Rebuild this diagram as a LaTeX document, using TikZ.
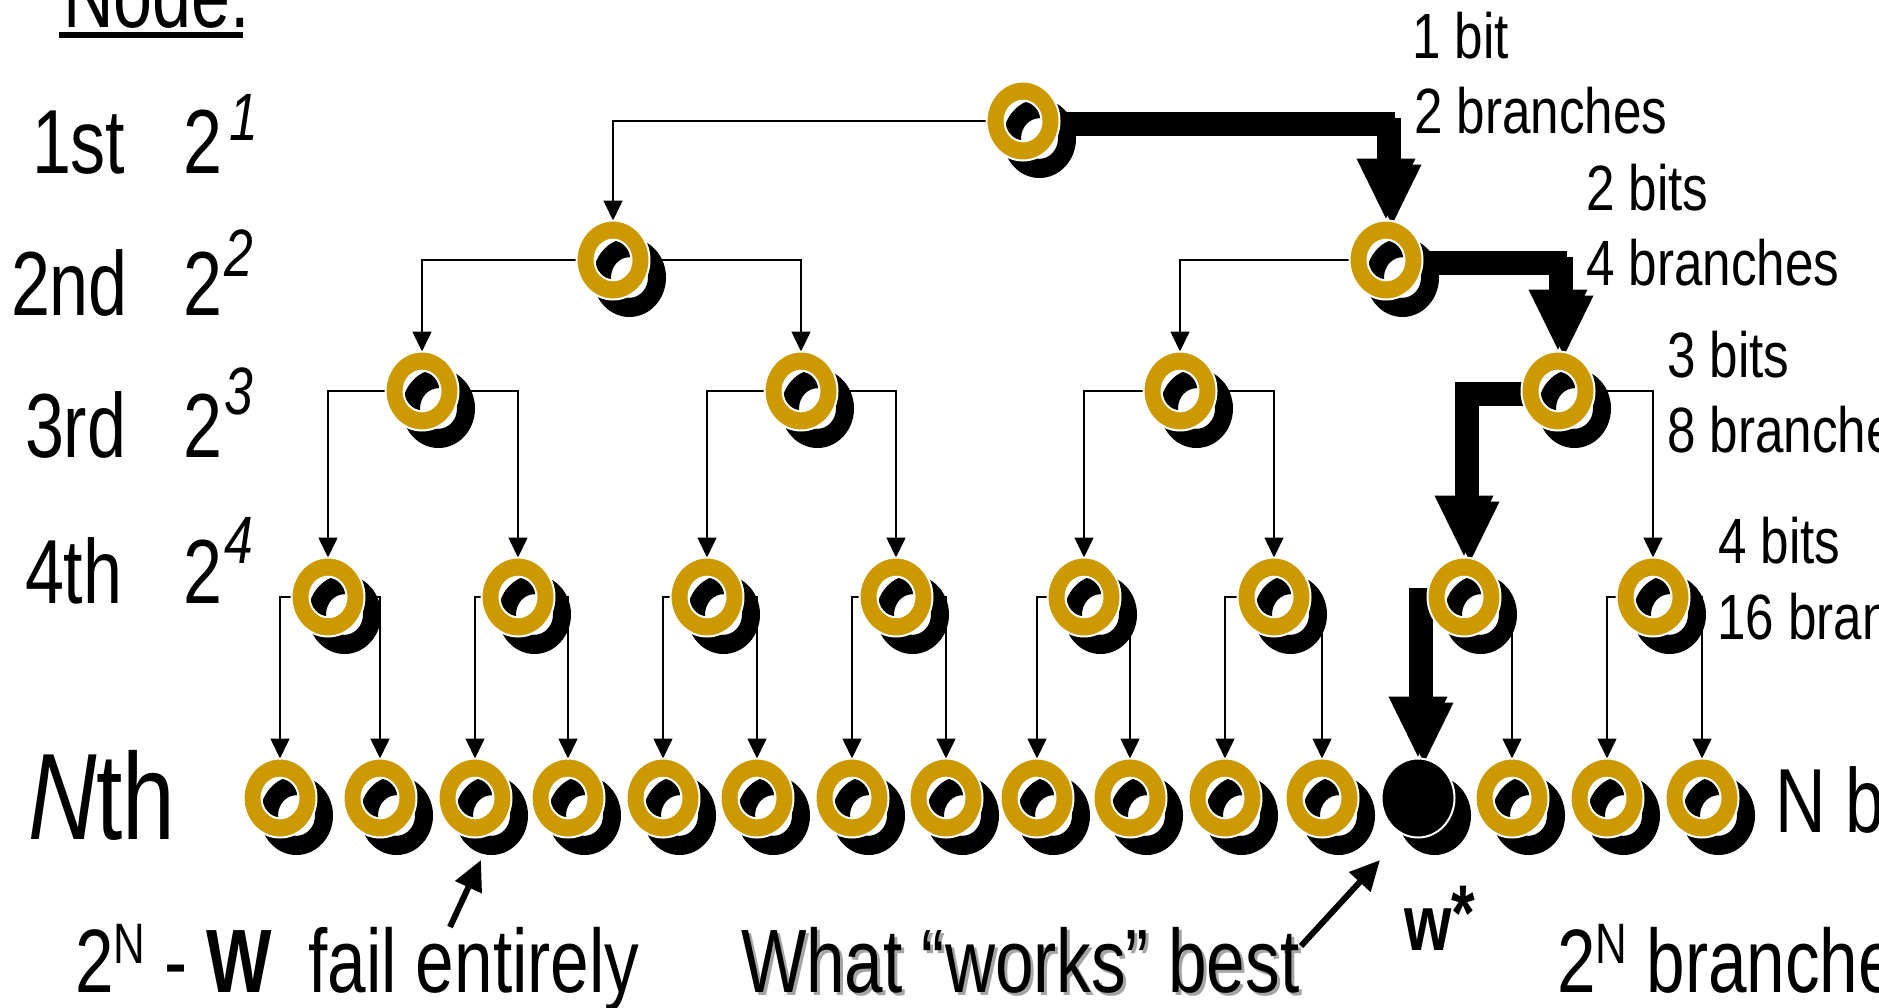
\documentclass[tikz,border=0pt]{standalone}
\usepackage{fontspec}
\setmainfont{Liberation Sans}[FakeStretch=0.77]
\newfontfamily\sidefont{Liberation Sans}[FakeStretch=0.80]
\usetikzlibrary{arrows.meta,shapes.geometric}
\pgfdeclarelayer{wires}
\pgfsetlayers{wires,main}
\definecolor{ringgold}{RGB}{204,153,0}
\definecolor{textshade}{RGB}{165,165,165}

\newcommand{\fs}[1]{\fontsize{#1pt}{#1pt}\selectfont}
\newcommand{\upby}[3]{\raisebox{#1pt}{\fs{#2}#3}}

\tikzset{
  hub/.style={ellipse, minimum width=73pt, minimum height=79pt, inner sep=0pt, outer sep=0pt, draw=none},
  txt/.style={inner sep=0pt, outer sep=0pt, anchor=base west},
  thinlink/.style={line width=1.6pt, -{Triangle[width=19pt,length=20pt]}},
  fatlink/.style={line width=18pt, -{Triangle[width=54pt,length=62pt]}},
  pointer/.style={line width=6pt, -{Triangle[width=28pt,length=30pt]}},
}

% hollow gold ring with its drop shadow: name, x, y
\newcommand{\ringnode}[3]{%
  \fill[black, even odd rule] (#2+16.5,#3+17.5) ellipse [x radius=36.5pt, y radius=39.5pt] ellipse [x radius=18.5pt, y radius=20.3pt];
  \node[hub] (#1) at (#2,#3) {};
  \fill[ringgold, even odd rule] (#1.center) ellipse [x radius=36.5pt, y radius=39.5pt] ellipse [x radius=18.5pt, y radius=20.3pt];
  \draw[white, line width=2pt] (#1.center) ellipse [x radius=36.5pt, y radius=39.5pt] ellipse [x radius=18.5pt, y radius=20.3pt];
}
% solid black node with its drop shadow: name, x, y
\newcommand{\solidnode}[3]{%
  \fill[black] (#2+16.5,#3+17.5) ellipse [x radius=36.5pt, y radius=39.5pt];
  \node[hub] (#1) at (#2,#3) {};
  \fill[black] (#1.center) ellipse [x radius=36.5pt, y radius=39.5pt];
  \draw[white, line width=2pt] (#1.center) ellipse [x radius=36.5pt, y radius=39.5pt];
}
% bold path drawn with a slight offset copy behind it
\newcommand{\fatpath}[2]{%
  \draw[fatlink, transform canvas={shift={(6pt,-6pt)}}] (#1) -| (#2);
  \draw[fatlink] (#1) -| (#2);
}

\begin{document}
\begin{tikzpicture}[x=1pt, y=-1pt]
\useasboundingbox (0,0) rectangle (1879,1007);
\clip (0,0) rectangle (1879,1007);

% ---------------- tree nodes ----------------
\ringnode{a}{1023}{121}

\ringnode{b1}{613}{260}
\ringnode{b2}{1386}{260}

\ringnode{c1}{422}{391}
\ringnode{c2}{801}{391}
\ringnode{c3}{1180}{391}
\ringnode{c4}{1558}{391}

\ringnode{d1}{328}{597}
\ringnode{d2}{518}{597}
\ringnode{d3}{707}{597}
\ringnode{d4}{896}{597}
\ringnode{d5}{1084}{597}
\ringnode{d6}{1274}{597}
\ringnode{d7}{1464}{597}
\ringnode{d8}{1653}{597}

\ringnode{e1}{280}{798}
\ringnode{e2}{380}{798}
\ringnode{e3}{475}{798}
\ringnode{e4}{568}{798}
\ringnode{e5}{663}{798}
\ringnode{e6}{757}{798}
\ringnode{e7}{852}{798}
\ringnode{e8}{946}{798}
\ringnode{e9}{1037}{798}
\ringnode{e10}{1130}{798}
\ringnode{e11}{1225}{798}
\ringnode{e12}{1322}{798}
\solidnode{e13}{1418}{798}
\ringnode{e14}{1512}{798}
\ringnode{e15}{1607}{798}
\ringnode{e16}{1702}{798}

% ---------------- branches ----------------
\begin{pgfonlayer}{wires}
  \draw[thinlink] (a.west) -| (b1.north);
  \fatpath{a.east}{b2.north}

  \draw[thinlink] (b1.west) -| (c1.north);
  \draw[thinlink] (b1.east) -| (c2.north);
  \draw[thinlink] (b2.west) -| (c3.north);
  \fatpath{b2.east}{c4.north}

  \draw[thinlink] (c1.west) -| (d1.north);
  \draw[thinlink] (c1.east) -| (d2.north);
  \draw[thinlink] (c2.west) -| (d3.north);
  \draw[thinlink] (c2.east) -| (d4.north);
  \draw[thinlink] (c3.west) -| (d5.north);
  \draw[thinlink] (c3.east) -| (d6.north);
  \fatpath{c4.west}{d7.north}
  \draw[thinlink] (c4.east) -| (d8.north);

  \draw[thinlink] (d1.west) -| (e1.north);
  \draw[thinlink] (d1.east) -| (e2.north);
  \draw[thinlink] (d2.west) -| (e3.north);
  \draw[thinlink] (d2.east) -| (e4.north);
  \draw[thinlink] (d3.west) -| (e5.north);
  \draw[thinlink] (d3.east) -| (e6.north);
  \draw[thinlink] (d4.west) -| (e7.north);
  \draw[thinlink] (d4.east) -| (e8.north);
  \draw[thinlink] (d5.west) -| (e9.north);
  \draw[thinlink] (d5.east) -| (e10.north);
  \draw[thinlink] (d6.west) -| (e11.north);
  \draw[thinlink] (d6.east) -| (e12.north);
  \fatpath{d7.west}{e13.north}
  \draw[thinlink] (d7.east) -| (e14.north);
  \draw[thinlink] (d8.west) -| (e15.north);
  \draw[thinlink] (d8.east) -| (e16.north);
\end{pgfonlayer}

% ---------------- level labels (left) ----------------
\node[txt, font=\fs{91}] (hdr) at (63,27) {Node:};
\fill (59,32) rectangle (243,38);

\node[txt, font=\fs{91}] (lv1) at (32,173) {1st};
\node[txt, font=\fs{91}] (lv2) at (11,315) {2nd};
\node[txt, font=\fs{91}] (lv3) at (25,457) {3rd};
\node[txt, font=\fs{91}] (lv4) at (25,603) {4th};
\node[txt, font=\fs{123}] (lvN) at (28,839) {\itshape N\upshape th};

\node[txt, font=\fs{91}] (pw1) at (183,173) {2\upby{33}{67}{\itshape\kern8pt 1}};
\node[txt, font=\fs{91}] (pw2) at (183,315) {2\upby{39}{67}{\itshape\kern3pt 2}};
\node[txt, font=\fs{91}] (pw3) at (183,457) {2\upby{43}{67}{\itshape\kern3pt 3}};
\node[txt, font=\fs{91}] (pw4) at (183,603) {2\upby{40}{67}{\itshape\kern3pt 4}};

% ---------------- bit counts (right) ----------------
\node[txt, font=\sidefont\fs{64}] (bit1) at (1412,58) {1 bit};
\node[txt, font=\sidefont\fs{64}] (br1) at (1414,133) {2 branches};
\node[txt, font=\sidefont\fs{64}] (bit2) at (1586,210) {2 bits};
\node[txt, font=\sidefont\fs{64}] (br2) at (1586,285) {4 branches};
\node[txt, font=\sidefont\fs{64}] (bit3) at (1667,377) {3 bits};
\node[txt, font=\sidefont\fs{64}] (br3) at (1667,452) {8 branches};
\node[txt, font=\sidefont\fs{64}] (bit4) at (1718,563) {4 bits};
\node[txt, font=\sidefont\fs{64}] (br4) at (1717,639) {16 branches};
\node[txt, font=\fs{91}] (bitN) at (1775,832) {N bits};

% ---------------- bottom captions ----------------
\node[txt, font=\fs{90}] (fail) at (75,992) {2\upby{29}{57}{N} - \textbf{W}\hspace{36pt}fail entirely};
\node[txt, font=\fs{90}, text=textshade] (bestshade) at (744,995) {What “works” best};
\node[txt, font=\fs{90}] (best) at (741,992) {What “works” best};
\node[txt, font=\fs{79}] (wstar) at (1404,950) {\textbf{w\raisebox{10pt}{*}}};
\node[txt, font=\fs{90}] (brN) at (1557,992) {2\upby{29}{57}{N} branches};

% ---------------- pointers ----------------
\coordinate (failtail) at (450,927);
\coordinate (failtip) at (481,860);
\draw[pointer] (failtail) -- (failtip);
\coordinate (besttail) at (1301,946);
\coordinate (besttip) at (1380,860);
\draw[pointer] (besttail) -- (besttip);

\end{tikzpicture}
\end{document}
